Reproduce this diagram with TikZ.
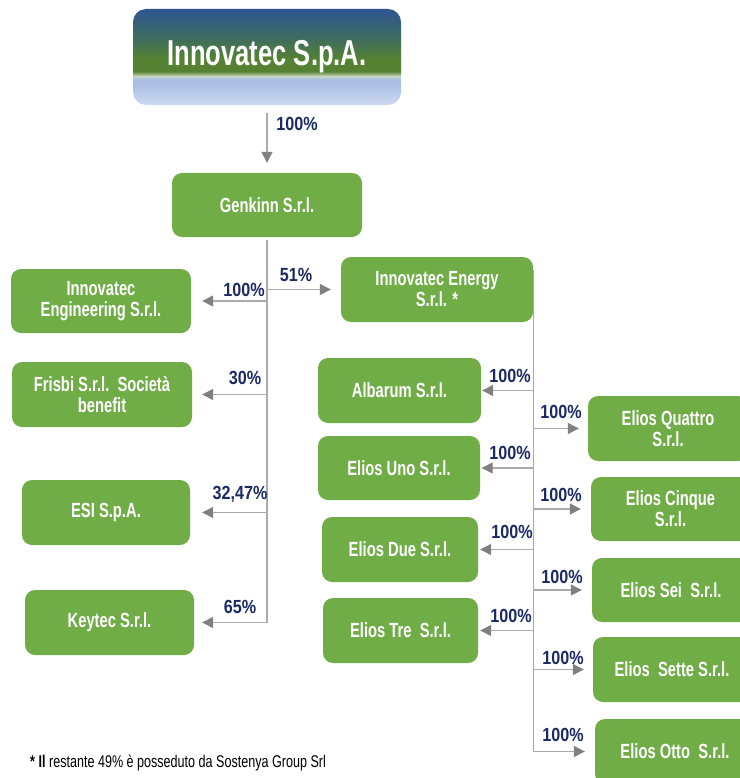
\documentclass[tikz,border=0pt]{standalone}
\usepackage{fontspec}
\usetikzlibrary{arrows.meta,calc}
\newfontfamily\boxfont{Liberation Sans}[FakeStretch=0.72]
\newfontfamily\pctfont{Liberation Sans}[FakeStretch=0.85]
\newfontfamily\titlefont{Liberation Sans}[FakeStretch=0.71]
\newfontfamily\notefont{Liberation Sans}[FakeStretch=0.74]
\definecolor{boxgreen}{RGB}{112,173,71}
\definecolor{pctblue}{RGB}{27,42,100}
\definecolor{linegray}{RGB}{170,170,170}
\definecolor{tipgray}{RGB}{128,128,128}
\definecolor{tlA}{RGB}{205,218,242}
\definecolor{tlB}{RGB}{170,190,228}
\definecolor{tlC}{RGB}{200,216,190}
\definecolor{tgr}{RGB}{84,130,50}
\definecolor{tmid}{RGB}{62,108,95}
\definecolor{tbl}{RGB}{47,85,145}
\pgfdeclareverticalshading{titleshade}{100bp}{color(0bp)=(tlA); color(25bp)=(tlA); color(36bp)=(tlB); color(38.5bp)=(tlB); color(40bp)=(tlC); color(42.5bp)=(tgr); color(49bp)=(tgr); color(60bp)=(tmid); color(75bp)=(tbl); color(100bp)=(tbl)}
\tikzset{
  gbox/.style={fill=boxgreen, rounded corners=10pt, inner sep=0pt, text=white, align=center,
    font=\boxfont\bfseries\fontsize{20.5}{21}\selectfont},
  pct/.style={text=pctblue, inner sep=0pt, font=\pctfont\bfseries\fontsize{19}{19}\selectfont},
  trunk/.style={draw=linegray, line width=1.3pt},
  conn/.style={draw=linegray, line width=1.3pt, -{Triangle[length=11pt,width=11pt,color=tipgray]}},
}
\begin{document}
\begin{tikzpicture}[x=1pt,y=-1pt]
\useasboundingbox (0,0) rectangle (739,778);
% title
\node[shading=titleshade, rounded corners=13pt, minimum width=268pt, minimum height=96pt, inner sep=0pt,
  text=white, font=\titlefont\bfseries\fontsize{36}{38}\selectfont] (title) at (267,57) {Innovatec S.p.A.};
% boxes
\node[gbox, minimum width=190pt, minimum height=64pt] (gen) at (267,205) {Genkinn S.r.l.};
\node[gbox, minimum width=180pt, minimum height=64pt] (ieng) at (101,301) {Innovatec\\Engineering S.r.l.};
\node[gbox, minimum width=180pt, minimum height=65pt] (fris) at (102,394.5) {Frisbi S.r.l.\ \ Società\\benefit};
\node[gbox, minimum width=168pt, minimum height=65pt] (esi) at (106,512.5) {ESI S.p.A.};
\node[gbox, minimum width=169pt, minimum height=65pt] (key) at (109.5,622.5) {Keytec S.r.l.};
\node[gbox, minimum width=192pt, minimum height=65pt] (ener) at (437,289.5) {Innovatec Energy\\S.r.l. *};
\node[gbox, minimum width=163pt, minimum height=65pt] (alb) at (399.5,390.5) {Albarum S.r.l.};
\node[gbox, minimum width=162pt, minimum height=64pt] (uno) at (399,468) {Elios Uno S.r.l.};
\node[gbox, minimum width=156pt, minimum height=65pt] (due) at (400,549.5) {Elios Due S.r.l.};
\node[gbox, minimum width=155pt, minimum height=65pt] (tre) at (400.5,630.5) {Elios Tre\ \ S.r.l.};
\node[gbox, minimum width=160pt, minimum height=65pt] (quat) at (668,428.5) {Elios Quattro\\S.r.l.};
\node[gbox, minimum width=159pt, minimum height=64pt] (cinq) at (670.5,509) {Elios Cinque\\S.r.l.};
\node[gbox, minimum width=158pt, minimum height=64pt] (sei) at (671,590) {Elios Sei\ \ S.r.l.};
\node[gbox, minimum width=158pt, minimum height=65pt] (sette) at (672,669.5) {Elios\ \ Sette S.r.l.};
\node[gbox, minimum width=160pt, minimum height=65pt] (otto) at (675,751.5) {Elios Otto\ \ S.r.l.};
% connectors
\draw[conn, shorten <=8pt, shorten >=10pt] (title.south) -- (gen.north);
\coordinate (gbot) at (gen.south |- 0,623);
\draw[trunk] ([yshift=-3pt]gen.south) -- (gbot);
\draw[conn, shorten >=11pt] (gen.south |- ieng.east) -- (ieng.east);
\draw[conn, shorten >=10pt] (gen.south |- ener.west) -- (ener.west);
\draw[conn, shorten >=10pt] (gen.south |- fris.east) -- (fris.east);
\draw[conn, shorten >=12pt] (gen.south |- esi.east) -- (esi.east);
\draw[conn, shorten >=8pt] (gen.south |- key.east) -- (key.east);
\coordinate (etop) at ([yshift=-13pt]ener.north east);
\coordinate (ebot) at (etop |- otto.west);
\draw[trunk] (etop) -- (ebot);
\draw[conn, shorten >=1pt] (etop |- alb.east) -- (alb.east);
\draw[conn, shorten >=1.5pt] (etop |- uno.east) -- (uno.east);
\draw[conn, shorten >=2pt] (etop |- due.east) -- (due.east);
\draw[conn, shorten >=2pt] (etop |- tre.east) -- (tre.east);
\draw[conn, shorten >=9pt] (etop |- quat.west) -- (quat.west);
\draw[conn, shorten >=10pt] (etop |- cinq.west) -- (cinq.west);
\draw[conn, shorten >=10pt] (etop |- sei.west) -- (sei.west);
\draw[conn, shorten >=9pt] (etop |- sette.west) -- (sette.west);
\draw[conn, shorten >=10pt] (etop |- otto.west) -- (otto.west);
% labels
\node[pct] (p0) at (297,124) {100\%};
\node[pct] (p1) at (244,290) {100\%};
\node[pct] (p2) at (296,275) {51\%};
\node[pct] (p3) at (245,378) {30\%};
\node[pct] (p4) at (240,494) {32,47\%};
\node[pct] (p5) at (240,607) {65\%};
\node[pct] (p6) at (510,376) {100\%};
\node[pct] (p7) at (510,453) {100\%};
\node[pct] (p8) at (512,532) {100\%};
\node[pct] (p9) at (511,616) {100\%};
\node[pct] (p10) at (561,412) {100\%};
\node[pct] (p11) at (561,495) {100\%};
\node[pct] (p12) at (562,577) {100\%};
\node[pct] (p13) at (563,658) {100\%};
\node[pct] (p14) at (563,735) {100\%};
% footnote
\node[anchor=base west, inner sep=0pt, font=\notefont\fontsize{17}{17}\selectfont] (note) at (30,767)
  {{\bfseries * Il} restante 49\% è posseduto da Sostenya Group Srl};
\end{tikzpicture}
\end{document}
